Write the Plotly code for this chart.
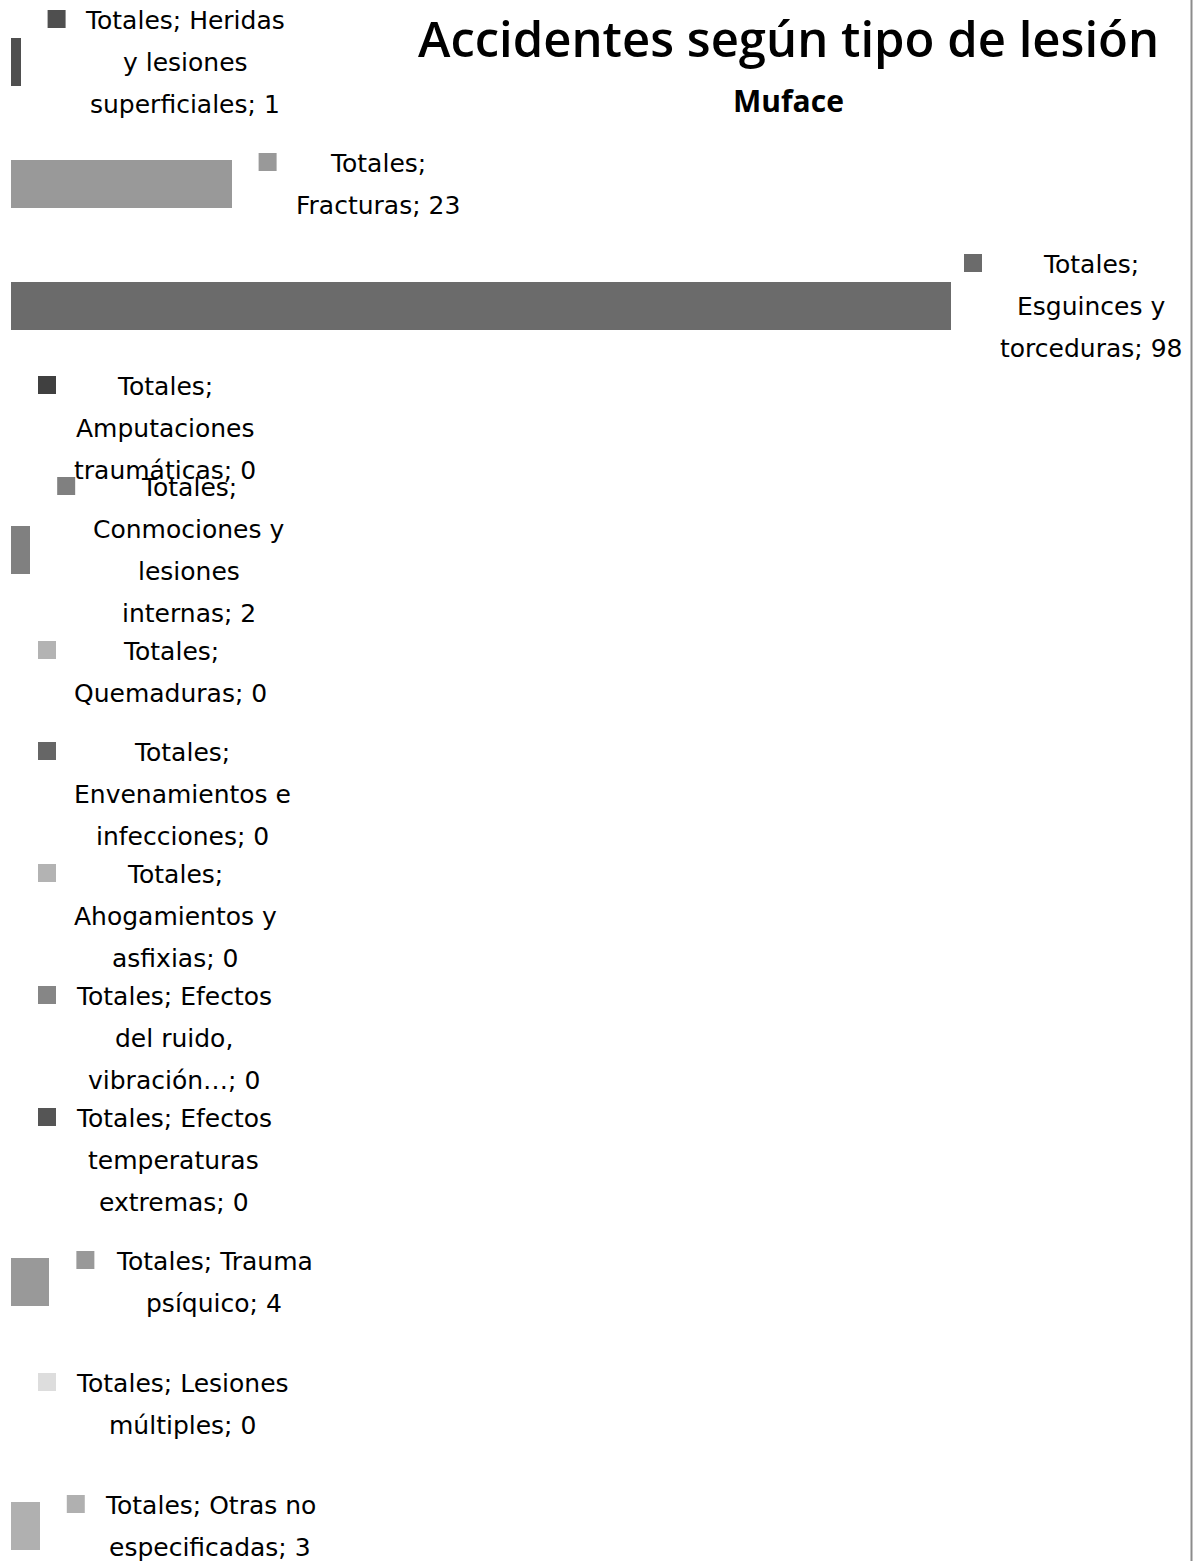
import textwrap
import plotly.graph_objects as go

# ---------------- data ----------------
series_name = "Totales"
categories = [
    "Heridas y lesiones superficiales",
    "Fracturas",
    "Esguinces y torceduras",
    "Amputaciones traumáticas",
    "Conmociones y lesiones internas",
    "Quemaduras",
    "Envenamientos e infecciones",
    "Ahogamientos y asfixias",
    "Efectos del ruido, vibración…",
    "Efectos temperaturas extremas",
    "Trauma psíquico",
    "Lesiones múltiples",
    "Otras no especificadas",
]
values = [1, 23, 98, 0, 2, 0, 0, 0, 0, 0, 4, 0, 3]
colors = [
    "#4f4f4f", "#999999", "#6b6b6b", "#404040", "#808080", "#b3b3b3",
    "#666666", "#b3b3b3", "#868686", "#555555", "#999999", "#dddddd", "#b0b0b0",
]
title_text = "Accidentes según tipo de lesión"
subtitle_text = "Muface"

# ---------------- layout constants (page pixels) ----------------
W, H = 1193, 1561
X0_PX = 11            # pixel where value 0 sits
PX_PER_UNIT = 940 / 98
ROW_PX = 122
FIRST_ROW_PX = 62
LINE_PX = 42
FONT_SIZE = 25
RIGHT_LIMIT = 1183
SQ = 18
WRAP = 17
GAP = 36
BAR_GAP = 27

# approximate DejaVu Sans advance widths (em)
_W = {
    " ": .318, "a": .613, "b": .635, "c": .550, "d": .635, "e": .615, "f": .352,
    "g": .635, "h": .634, "i": .278, "j": .278, "k": .579, "l": .278, "m": .974,
    "n": .634, "o": .612, "p": .635, "q": .635, "r": .411, "s": .521, "t": .392,
    "u": .634, "v": .592, "w": .818, "x": .592, "y": .592, "z": .525,
    "á": .613, "é": .615, "í": .278, "ó": .612, "ú": .634,
    "A": .684, "C": .698, "E": .632, "F": .575, "H": .752, "L": .557,
    "M": .863, "O": .787, "Q": .787, "T": .611,
    ";": .337, ",": .318, "…": 1.0,
}


def text_px(s):
    return sum(_W.get(c, .636) for c in s) * FONT_SIZE


pos = list(range(len(categories)))

fig = go.Figure(
    go.Bar(
        x=values,
        y=pos,
        orientation="h",
        width=0.4,
        marker=dict(color=colors, line=dict(width=0)),
        hovertext=categories,
        hoverinfo="text+x",
        showlegend=False,
    )
)

annotations = []
shapes = []
for k, (cat, v, col) in enumerate(zip(categories, values, colors)):
    label = f"{series_name}; {cat}; {v}"
    lines = textwrap.wrap(label, WRAP)
    wmax = max(text_px(l) for l in lines)
    end_px = X0_PX + v * PX_PER_UNIT
    sq_left = min(end_px + BAR_GAP, RIGHT_LIMIT - GAP - wmax)
    dx = sq_left - end_px
    n = len(lines)
    top_shift = (n - 1) / 2 * LINE_PX
    for i, line in enumerate(lines):
        annotations.append(dict(
            x=v, y=k, xref="x", yref="y",
            xshift=dx + GAP + wmax / 2,
            yshift=top_shift - i * LINE_PX,
            text=line, showarrow=False,
            xanchor="center", yanchor="middle",
            font=dict(family="DejaVu Sans", size=FONT_SIZE, color="#000000"),
        ))
    shapes.append(dict(
        type="rect", xref="x", yref="y",
        xsizemode="pixel", ysizemode="pixel",
        xanchor=v, yanchor=k,
        x0=dx, x1=dx + SQ,
        y0=top_shift - SQ / 2 + 1, y1=top_shift + SQ / 2 + 1,
        fillcolor=col, line=dict(width=0),
    ))

# titles
annotations.append(dict(
    x=788 / W, y=1 - 38 / H, xref="paper", yref="paper",
    text=title_text, showarrow=False, xanchor="center", yanchor="middle",
    font=dict(family="Open Sans", size=49, color="#000000", weight=600),
))
annotations.append(dict(
    x=788 / W, y=1 - 100 / H, xref="paper", yref="paper",
    text=subtitle_text, showarrow=False, xanchor="center", yanchor="middle",
    font=dict(family="Open Sans", size=30, color="#000000", weight=700),
))

# right border line
shapes.append(dict(
    type="line", xref="paper", yref="paper",
    x0=1191.5 / W, x1=1191.5 / W, y0=0, y1=1,
    line=dict(color="#8c8c8c", width=2),
))

fig.update_layout(
    width=W, height=H, autosize=False,
    margin=dict(l=0, r=0, t=0, b=0, pad=0),
    paper_bgcolor="white", plot_bgcolor="white",
    xaxis=dict(range=[-X0_PX / PX_PER_UNIT, (W - X0_PX) / PX_PER_UNIT],
               visible=False, showgrid=False, zeroline=False),
    yaxis=dict(range=[(H - FIRST_ROW_PX) / ROW_PX, -FIRST_ROW_PX / ROW_PX],
               visible=False, showgrid=False, zeroline=False),
    annotations=annotations,
    shapes=shapes,
    bargap=0,
)

fig.write_html(
    "out.html",
    config={"displayModeBar": False},
    post_script="document.body.style.margin='0';document.body.style.overflow='hidden';",
)
